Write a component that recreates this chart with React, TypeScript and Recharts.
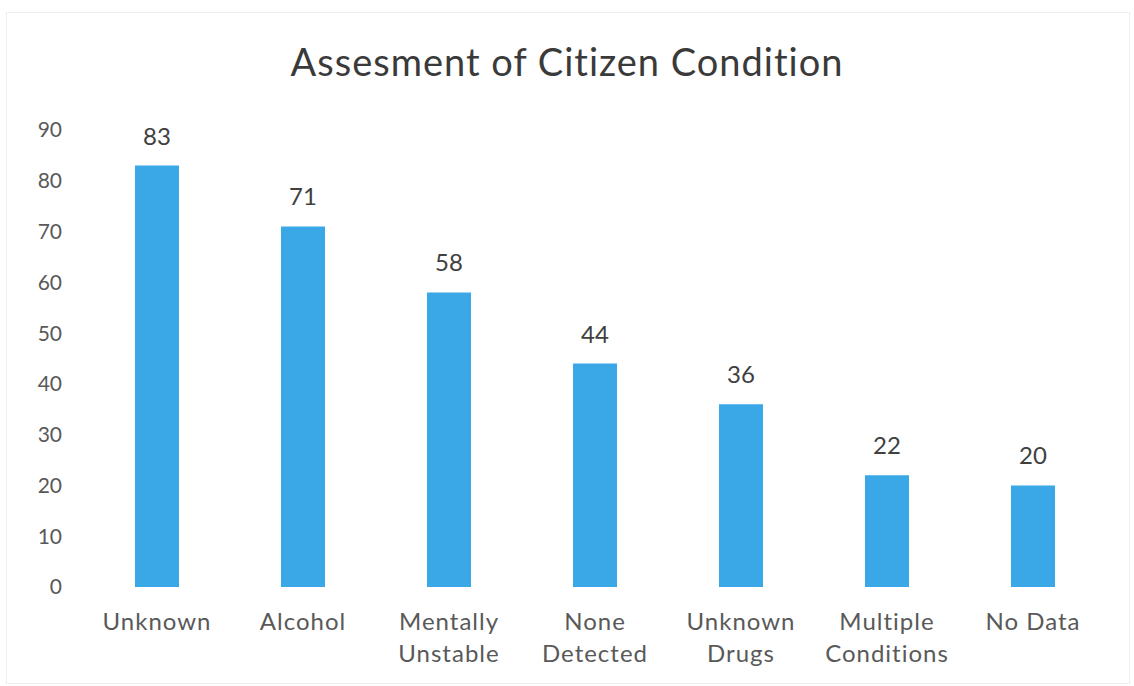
import { BarChart, Bar, XAxis, YAxis, LabelList } from 'recharts';

const categories = ['Unknown', 'Alcohol', 'Mentally\nUnstable', 'None\nDetected', 'Unknown\nDrugs', 'Multiple\nConditions', 'No Data'];
const counts = [83, 71, 58, 44, 36, 22, 20];
const yTicks = [0, 10, 20, 30, 40, 50, 60, 70, 80, 90];

const chartData = categories.map((name, i) => ({ name, value: counts[i] }));

const FONT = 'Lato, "Open Sans", sans-serif';

function CategoryTick(props: any) {
  const { x, y, payload } = props;
  const lines: string[] = String(payload.value).split('\n');
  return (
    <text x={x} y={y} textAnchor="middle" fill="#595959" fontSize={24} letterSpacing={1} fontFamily={FONT}>
      {lines.map((w, i) => (
        <tspan key={i} x={x} dy={i === 0 ? 35 : 32}>{w}</tspan>
      ))}
    </text>
  );
}

export default function App() {
  return (
    <div style={{ position: 'absolute', left: 0, top: 0, width: 1134, height: 686, background: '#fff', fontFamily: FONT }}>
      <div style={{ position: 'absolute', left: 6, top: 12, width: 1122, height: 670, border: '1px solid #eeeeee' }} />
      <div style={{ position: 'absolute', top: 38, width: 1134, textAlign: 'center', fontSize: 38, letterSpacing: 1, color: '#3a3a3a' }}>
        Assesment of Citizen Condition
      </div>
      <BarChart width={1134} height={686} data={chartData} margin={{ top: 130, right: 28, bottom: 0, left: 24 }}>
        <XAxis dataKey="name" axisLine={false} tickLine={false} height={99} interval={0} tick={<CategoryTick />} />
        <YAxis
          domain={[0, 90]}
          ticks={yTicks}
          width={60}
          axisLine={false}
          tickLine={false}
          tickSize={0}
          tickMargin={22}
          tick={{ fill: '#595959', fontSize: 21, fontFamily: FONT }}
        />
        <Bar dataKey="value" fill="#3aa8e6" barSize={44} isAnimationActive={false}>
          <LabelList dataKey="value" position="top" offset={21} fill="#404040" fontSize={24} fontFamily={FONT} />
        </Bar>
      </BarChart>
    </div>
  );
}
